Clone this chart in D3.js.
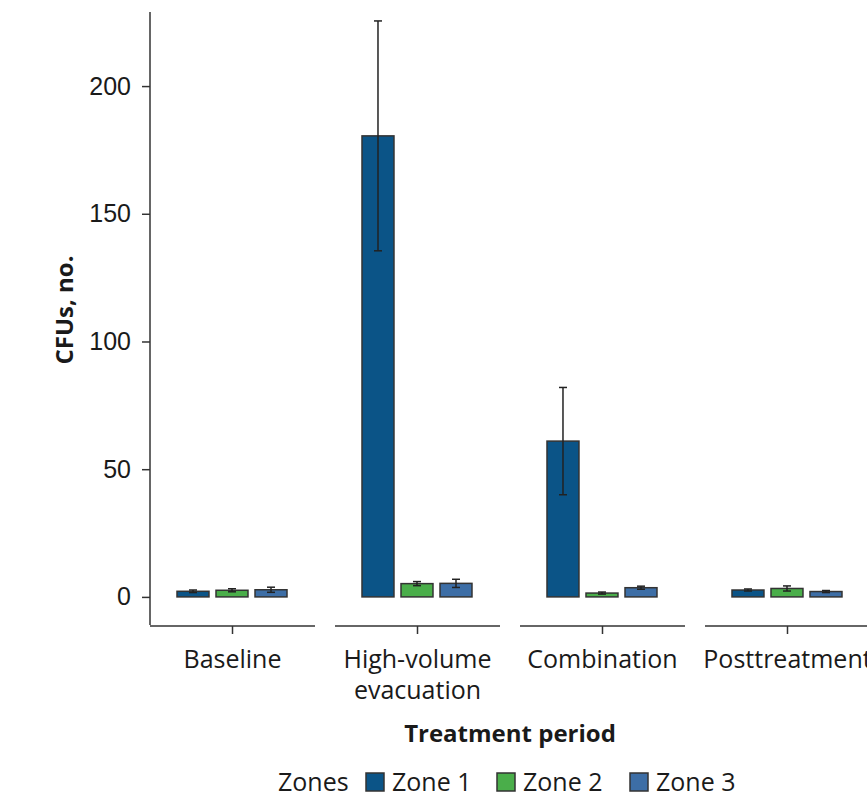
<!DOCTYPE html>
<html>
<head>
<meta charset="utf-8">
<script src="https://cdn.jsdelivr.net/npm/d3@7"></script>
<style>
  body { margin: 0; background: #fff; }
  svg { font-family: "Open Sans", "Noto Sans", sans-serif; }
  .axis text { font-size: 25px; fill: #1a1a1a; }
  .axis path, .axis line { stroke: #333; stroke-width: 1.5px; }
</style>
</head>
<body>
<svg width="867" height="793"></svg>
<script>
// data
var periods = ["Baseline", "High-volume evacuation", "Combination", "Posttreatment"];
var periodLines = [["Baseline"], ["High-volume", "evacuation"], ["Combination"], ["Posttreatment"]];
var zones = ["Zone 1", "Zone 2", "Zone 3"];
var zoneColors = ["#0b5487", "#4aae4a", "#3d6ea6"];
var zone1 = [2.2, 180.5, 61, 2.7];
var zone2 = [2.6, 5.2, 1.5, 3.3];
var zone3 = [2.8, 5.3, 3.6, 2.1];
var zone1Err = [0.5, 45, 21, 0.4];
var zone2Err = [0.6, 0.8, 0.4, 1.0];
var zone3Err = [1.0, 1.6, 0.6, 0.4];
var yTicks = [0, 50, 100, 150, 200];

var series = [zone1, zone2, zone3];
var errs = [zone1Err, zone2Err, zone3Err];
var rows = [];
periods.forEach(function(p, i) {
  zones.forEach(function(z, j) {
    rows.push({period: p, zone: z, value: series[j][i], err: errs[j][i], color: zoneColors[j]});
  });
});

var svg = d3.select("svg");

var x = d3.scaleBand().domain(periods).range([150, 870]).paddingInner(0.108);
var xz = d3.scaleBand().domain(zones).range([27, 137]).paddingInner(0.18);
var y = d3.scaleLinear().domain([-11, 229]).range([625, 12]);

// y axis
var yAxis = svg.append("g")
    .attr("class", "axis")
    .attr("transform", "translate(150,0)")
    .call(d3.axisLeft(y).tickValues(yTicks).tickSize(8).tickPadding(11).tickSizeOuter(0));
yAxis.select(".domain").attr("d", "M0," + y(229) + "V" + y(-11));

// x axis, one short axis line per period
var xg = svg.append("g").attr("class", "axis");
periods.forEach(function(p, i) {
  var x0 = x(p);
  var g = xg.append("g");
  g.append("line")
      .attr("x1", x0).attr("x2", x0 + x.bandwidth())
      .attr("y1", 626).attr("y2", 626);
  g.append("line")
      .attr("x1", x0 + x.bandwidth() / 2).attr("x2", x0 + x.bandwidth() / 2)
      .attr("y1", 626).attr("y2", 634);
  var t = g.append("text")
      .attr("text-anchor", "middle")
      .attr("x", x0 + x.bandwidth() / 2)
      .attr("y", 668);
  periodLines[i].forEach(function(line, k) {
    t.append("tspan").attr("x", x0 + x.bandwidth() / 2).attr("dy", k ? 31 : 0).text(line);
  });
});

// bars
svg.append("g").selectAll("rect")
    .data(rows)
  .enter().append("rect")
    .attr("x", function(d) { return x(d.period) + xz(d.zone); })
    .attr("width", xz.bandwidth())
    .attr("y", function(d) { return y(d.value); })
    .attr("height", function(d) { return y(0) - y(d.value); })
    .attr("fill", function(d) { return d.color; })
    .attr("stroke", "#333")
    .attr("stroke-width", 1.5);

// error bars
var eb = svg.append("g").attr("stroke", "#222").attr("stroke-width", 1.5)
    .selectAll("g").data(rows).enter().append("g");
eb.append("line")
    .attr("x1", function(d) { return x(d.period) + xz(d.zone) + xz.bandwidth() / 2; })
    .attr("x2", function(d) { return x(d.period) + xz(d.zone) + xz.bandwidth() / 2; })
    .attr("y1", function(d) { return y(d.value - d.err); })
    .attr("y2", function(d) { return y(d.value + d.err); });
[-1, 1].forEach(function(s) {
  eb.append("line")
      .attr("x1", function(d) { return x(d.period) + xz(d.zone) + xz.bandwidth() / 2 - 4; })
      .attr("x2", function(d) { return x(d.period) + xz(d.zone) + xz.bandwidth() / 2 + 4; })
      .attr("y1", function(d) { return y(d.value + s * d.err); })
      .attr("y2", function(d) { return y(d.value + s * d.err); });
});

// axis titles
svg.append("text")
    .attr("transform", "translate(73,310) rotate(-90)")
    .attr("text-anchor", "middle")
    .style("font-size", "24px").style("font-weight", "bold").style("fill", "#1a1a1a")
    .text("CFUs, no.");
svg.append("text")
    .attr("x", 510).attr("y", 742)
    .attr("text-anchor", "middle")
    .style("font-size", "24px").style("font-weight", "bold").style("fill", "#1a1a1a")
    .text("Treatment period");

// legend
var legend = svg.append("g").style("font-size", "25px").style("fill", "#1a1a1a");
legend.append("text").attr("x", 278).attr("y", 791).text("Zones");
var legendX = [366, 497, 630];
zones.forEach(function(z, j) {
  legend.append("rect")
      .attr("x", legendX[j]).attr("y", 773)
      .attr("width", 18).attr("height", 18)
      .attr("fill", zoneColors[j]).attr("stroke", "#333").attr("stroke-width", 1.5);
  legend.append("text").attr("x", legendX[j] + 26).attr("y", 791).text(z);
});
</script>
</body>
</html>
